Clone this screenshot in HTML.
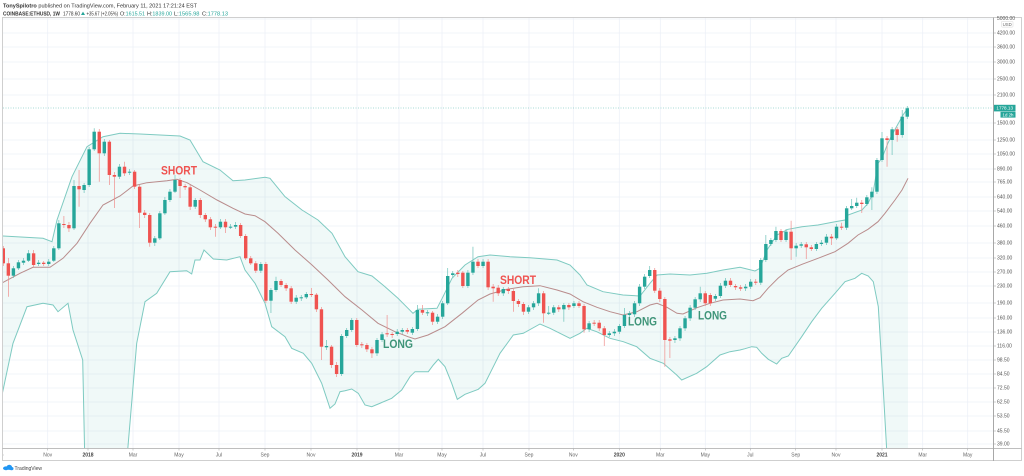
<!DOCTYPE html>
<html><head><meta charset="utf-8"><style>
html,body{margin:0;padding:0;background:#fff;width:1024px;height:476px;overflow:hidden}
svg{display:block;font-family:"Liberation Sans",Arial,sans-serif}
</style></head><body>
<svg width="1024" height="476" viewBox="0 0 1024 476" xmlns="http://www.w3.org/2000/svg">
<defs>
<clipPath id="plot"><rect x="3" y="17.5" width="990" height="430.5"/></clipPath>
<clipPath id="taxis"><rect x="3" y="448" width="990" height="13"/></clipPath>
</defs>
<rect width="1024" height="476" fill="#fff"/>

<!-- header -->
<text x="3" y="7.5" font-size="5.3" fill="#333" textLength="194" lengthAdjust="spacingAndGlyphs"><tspan font-weight="bold">TonySpilotro</tspan> published on TradingView.com, February 11, 2021 17:21:24 EST</text>
<g font-size="5.3" fill="#333">
<text x="3" y="15.3" font-weight="bold" textLength="57" lengthAdjust="spacingAndGlyphs">COINBASE:ETHUSD, 1W</text>
<text x="63" y="15.3" textLength="17" lengthAdjust="spacingAndGlyphs">1778.60</text>
<polygon points="81,15 85,15 83,11.6" fill="#26a69a"/>
<text x="86.5" y="15.3" textLength="31.5" lengthAdjust="spacingAndGlyphs">+35.67 (+2.05%)</text>
<text x="120" y="15.3" textLength="25" lengthAdjust="spacingAndGlyphs">O:<tspan fill="#26a69a">1615.51</tspan></text>
<text x="147" y="15.3" textLength="25" lengthAdjust="spacingAndGlyphs">H:<tspan fill="#26a69a">1839.00</tspan></text>
<text x="174" y="15.3" textLength="25.5" lengthAdjust="spacingAndGlyphs">L:<tspan fill="#26a69a">1565.98</tspan></text>
<text x="202" y="15.3" textLength="26" lengthAdjust="spacingAndGlyphs">C:<tspan fill="#26a69a">1778.13</tspan></text>
</g>

<!-- grid -->
<g stroke="#edf1f7" stroke-width="0.8">
<path d="M3 19H993M3 33H993M3 47H993M3 62H993M3 79H993M3 95H993M3 123H993M3 140H993M3 154H993M3 169H993M3 182H993M3 197H993M3 211H993M3 226H993M3 243H993M3 258H993M3 272H993M3 286H993M3 303H993M3 318H993M3 332H993M3 346H993M3 360H993M3 374H993M3 388H993M3 402H993M3 416H993M3 431H993M3 444H993"/>
<path d="M47.7 17.5V448M88 17.5V448M133 17.5V448M179 17.5V448M219 17.5V448M265 17.5V448M311 17.5V448M357 17.5V448M399 17.5V448M442 17.5V448M483 17.5V448M529 17.5V448M573.3 17.5V448M619.3 17.5V448M660.3 17.5V448M705.3 17.5V448M750.3 17.5V448M795.7 17.5V448M836 17.5V448M882 17.5V448M922.7 17.5V448M967.7 17.5V448"/>
</g>

<g clip-path="url(#plot)">
<!-- band fill -->
<polygon fill="#26a69a" fill-opacity="0.07" points="2,236 43,238.3 52,241.7 57,220 72,176.7 87,146.7 103,136.7 120,133.3 140,134 180,136 190,140 203,161.7 220,170 233,180.7 245,180 265,177.3 270,178.3 285,196.7 302,210 318,220 332,233.3 345,256.7 358,271.7 372,276 385,286.7 398,298.3 408,308.3 413,313.3 418,309.3 437,308.3 443,296.7 452,278.3 465,265 478,256.7 490,255 510,256.7 530,257.7 557,260 570,265 580,275 587,285 603,291.7 623,295 640,296 650,283.3 657,275 670,274 690,275 707,273.3 723,270 740,267.3 755,271 760,268.3 767,250 777,235 788,229.3 802,226.7 818,225 835,221.7 845,220 848,215 862,210 868,203.3 873,193.3 878,163.3 882,158 888,143 893,133 898,124 903,115 908,108 908,470 887.5,470 886.7,450 883.3,390 878.3,306.7 873.3,281.7 868.3,276 861.7,273.3 855,278.3 845,281.7 835,293.3 821.7,308.3 811.7,321.7 801.7,336.7 788.3,356 781.7,358.3 776.7,364 768.3,359.3 761.7,353.3 756.7,347.3 751.7,346.7 745,348.7 740,350 730,351.7 720,355 706.7,366.7 696.7,373.3 681.7,380 676.7,375 663.3,363.3 650,358.3 636.7,346.7 623.3,341.7 610,338.3 596.7,331.7 586.7,328.3 580,333.3 570,338.3 550,328.3 540,324 523.3,333.3 513.3,335 500,353.3 495,363.3 485,383.3 478.3,389.3 465,394.3 457.3,399.3 451.7,383.3 445,366.7 438.3,359.3 433.3,365 428.3,371.7 415,371.7 410,376.7 401.7,390 391.7,398.3 378.3,404 371.7,406.7 365,405 358.3,393.3 351.7,389 345,390.7 340,391.7 335,404 330,408.3 321.7,383.3 311.7,363.3 303.3,353.3 291.7,348.3 285,336.7 271.7,326.7 265,303.3 255,283.3 245,270 240,256.7 226.7,260 213.3,259 204,250 200,260 195,260 191.7,274 186.7,270.7 170,271.7 156.7,293.3 145,301.7 136.7,343.3 126,470 85,470 82.7,360 73,330 68,303.3 58,311.7 53,305 43,303.3 27,306.7 13,343.3 2,395"/>
<!-- upper band -->
<polyline fill="none" stroke="#7ecac1" stroke-width="1" points="2,236 43,238.3 52,241.7 57,220 72,176.7 87,146.7 103,136.7 120,133.3 140,134 180,136 190,140 203,161.7 220,170 233,180.7 245,180 265,177.3 270,178.3 285,196.7 302,210 318,220 332,233.3 345,256.7 358,271.7 372,276 385,286.7 398,298.3 408,308.3 413,313.3 418,309.3 437,308.3 443,296.7 452,278.3 465,265 478,256.7 490,255 510,256.7 530,257.7 557,260 570,265 580,275 587,285 603,291.7 623,295 640,296 650,283.3 657,275 670,274 690,275 707,273.3 723,270 740,267.3 755,271 760,268.3 767,250 777,235 788,229.3 802,226.7 818,225 835,221.7 845,220 848,215 862,210 868,203.3 873,193.3 878,163.3 882,158 888,143 893,133 898,124 903,115 908,108"/>
<!-- lower band -->
<polyline fill="none" stroke="#7ecac1" stroke-width="1" points="2,395 13,343.3 27,306.7 43,303.3 53,305 58,311.7 68,303.3 73,330 82.7,360 85,470 126,470 136.7,343.3 145,301.7 156.7,293.3 170,271.7 186.7,270.7 191.7,274 195,260 200,260 204,250 213.3,259 226.7,260 240,256.7 245,270 255,283.3 265,303.3 271.7,326.7 285,336.7 291.7,348.3 303.3,353.3 311.7,363.3 321.7,383.3 330,408.3 335,404 340,391.7 345,390.7 351.7,389 358.3,393.3 365,405 371.7,406.7 378.3,404 391.7,398.3 401.7,390 410,376.7 415,371.7 428.3,371.7 433.3,365 438.3,359.3 445,366.7 451.7,383.3 457.3,399.3 465,394.3 478.3,389.3 485,383.3 495,363.3 500,353.3 513.3,335 523.3,333.3 540,324 550,328.3 570,338.3 580,333.3 586.7,328.3 596.7,331.7 610,338.3 623.3,341.7 636.7,346.7 650,358.3 663.3,363.3 676.7,375 681.7,380 696.7,373.3 706.7,366.7 720,355 730,351.7 740,350 745,348.7 751.7,346.7 756.7,347.3 761.7,353.3 768.3,359.3 776.7,364 781.7,358.3 788.3,356 801.7,336.7 811.7,321.7 821.7,308.3 835,293.3 845,281.7 855,278.3 861.7,273.3 868.3,276 873.3,281.7 878.3,306.7 883.3,390 886.7,450 887.5,470"/>
<!-- middle SMA -->
<polyline fill="none" stroke="#b98c8c" stroke-width="1" points="2,283 20,273.3 33,267.3 50,267.3 63,258.3 77,243.3 90,223.3 103,205 120,196 133,186 147,182.7 167,180.7 177,179.3 187,182.7 200,190 217,200 233,208.3 245,214 255,215.7 265,221.7 278,233.3 295,250 312,265 328,280 345,296.7 362,310 378,323.3 395,331.7 408,336.7 415,339 428,335 445,326.7 462,313.3 478,300 490,294 507,289.3 523,286.7 540,285.7 557,290 570,294 583,301.7 597,307.3 610,311.7 623,315 637,311.7 650,305 657,303.3 667,307.3 677,313.3 683,314 697,307.7 710,303.3 723,300 740,299 753,300.7 760,297.7 768,288.3 778,278.3 788,270 802,264.3 818,258.3 835,251.7 848,243.3 858,235 868,229.3 878,221.7 885,213.3 895,200 902,190 908,178.3"/>

<!-- price line -->
<line x1="3" y1="108" x2="993" y2="108" stroke="#26a69a" stroke-width="0.6" stroke-dasharray="1,1.5" opacity="0.8"/>

<!-- wicks -->
<path fill="none" stroke="#f08e8c" stroke-width="0.7" d="M3.3 246V266M8.35 258V296.7M33.6 250V267M43.7 261V266M63.9 216V228M68.95 222V232M79.05 170V206.7M99.25 129V181.7M109.35 140V185M114.4 172V208M124.5 161.7V176M134.6 170V189M139.65 185V228M144.7 210V218M149.75 213V246.7M180.05 178V198M185.1 184V190M190.15 185V210M200.25 198V218M205.3 213V222M210.35 217V230M215.4 224V236.7M225.5 219V233M240.65 223V238M245.7 234V260M250.75 256V265M255.8 261V273M265.9 262V303M281.05 279V287M286.1 283V291M291.15 286V304M311.35 288V297M316.4 293V312M321.45 307V360M331.55 345V368M336.6 362V377M356.8 318V347M361.85 342V348M366.9 343V352M371.95 347V358M387.1 315V337M392.15 332V338M407.3 328V334M422.45 305V315M432.55 311V325M457.8 270V277M462.85 271V288M478 259V268M488.1 259V290M493.15 284V301.7M498.2 285V296M508.3 287V294M513.35 289V311.7M518.4 299V307M523.45 302V315M543.65 291V322.7M558.8 305V312M568.9 303V310M579 301V308M584.05 304V332.7M594.15 320V326M599.2 320V331M604.25 326V346M654.75 268V293M659.8 288V302M664.85 297V366.7M669.9 337V358M705.25 291V306M710.3 293V306M730.5 278V287M735.55 284V290M740.6 285V291M755.75 279V285M781 229V242M791.1 220.7V260M806.25 242V259M811.3 245V251M831.5 234V245M841.6 222.7V230M861.8 200V213M887.05 136V166.7M897.15 127V141.7"/>
<path fill="none" stroke="#6cc2b9" stroke-width="0.7" d="M13.4 266V278M18.45 260V270M23.5 258V265M28.55 250V262M38.65 260V266M48.75 259V266M53.8 246V262M58.85 220V250M74 180V230M84.1 183V193M89.15 147V187M94.2 128.3V151M104.3 139V156M119.45 164V179M129.55 169V175M154.8 236V246M159.85 211V240M164.9 197V215M169.95 189V202M175 175V193M195.2 198V209M220.45 219V229M230.55 224V229M235.6 222V229M260.85 262V273M270.95 288V313M276 276.7V292M296.2 295V304M301.25 295V301M306.3 292V299M326.5 340V350M341.65 334V376M346.7 328V338M351.75 318V332M377 338V356M382.05 332V342M397.2 329V336M402.25 328V334M412.35 327V335M417.4 305V331M427.5 310V316M437.6 314V324M442.65 301V319M447.7 268V305M452.75 271V278M467.9 270V288M472.95 246.7V275M483.05 259V268M503.25 287V296M528.5 305V314M533.55 301V310M538.6 288.3V306M548.7 306V315M553.75 305V315M563.85 303V321.7M573.95 301V308M589.1 321V332M609.3 331V337M614.35 329V336M619.4 324V334M624.45 308V328M629.5 311V318M634.55 301V317M639.6 284V306M644.65 274V289M649.7 266V278M674.95 336V343M680 326V341M685.05 316V331M690.1 305V321M695.15 297V310M700.2 286.7V302M715.35 294V301M720.4 283V298M725.45 278V288M745.65 284V291M750.7 279V289M760.8 258V285M765.85 235V262M770.9 238V246M775.95 226.7V242M786.05 229V242M796.15 243V256.7M801.2 242V248M816.35 242V251M821.4 240V246M826.45 234V245M836.55 224V240M846.65 206V230M851.7 199V210M856.75 197.7V208M866.85 195V206M871.9 187.3V210M876.95 158V194M882 132V162M892.1 127V155M902.2 110V137.7M907.25 106V119"/>

<!-- red bodies -->
<g fill="#ef5350">
<rect x="1.6" y="248.3" width="3.4" height="15"/><rect x="6.65" y="263.3" width="3.4" height="12.4"/><rect x="31.9" y="253.3" width="3.4" height="11.7"/><rect x="42" y="262.7" width="3.4" height="1.3"/><rect x="62.2" y="224" width="3.4" height="1"/><rect x="67.25" y="225" width="3.4" height="3.3"/><rect x="77.35" y="186" width="3.4" height="3.3"/><rect x="97.55" y="131.7" width="3.4" height="21.6"/><rect x="107.65" y="141.7" width="3.4" height="33.3"/><rect x="112.7" y="175" width="3.4" height="1.7"/><rect x="122.8" y="166.7" width="3.4" height="6.6"/><rect x="132.9" y="171.7" width="3.4" height="15"/><rect x="137.95" y="186.7" width="3.4" height="26"/><rect x="143" y="212.7" width="3.4" height="2.3"/><rect x="148.05" y="215" width="3.4" height="27.7"/><rect x="178.35" y="180" width="3.4" height="6"/><rect x="183.4" y="186" width="3.4" height="1.3"/><rect x="188.45" y="187.3" width="3.4" height="19.4"/><rect x="198.55" y="200" width="3.4" height="15"/><rect x="203.6" y="215" width="3.4" height="4.3"/><rect x="208.65" y="219.3" width="3.4" height="8"/><rect x="213.7" y="226.7" width="3.4" height="1"/><rect x="223.8" y="221.7" width="3.4" height="5.6"/><rect x="238.95" y="225" width="3.4" height="11"/><rect x="244" y="236" width="3.4" height="22.3"/><rect x="249.05" y="258.3" width="3.4" height="5"/><rect x="254.1" y="263.3" width="3.4" height="7.4"/><rect x="264.2" y="264" width="3.4" height="36.7"/><rect x="279.35" y="281" width="3.4" height="4"/><rect x="284.4" y="285" width="3.4" height="3.3"/><rect x="289.45" y="288.3" width="3.4" height="13.4"/><rect x="309.65" y="294" width="3.4" height="1"/><rect x="314.7" y="294.7" width="3.4" height="14.6"/><rect x="319.75" y="309.3" width="3.4" height="37.4"/><rect x="329.85" y="346.7" width="3.4" height="18.3"/><rect x="334.9" y="365" width="3.4" height="9"/><rect x="355.1" y="320" width="3.4" height="25"/><rect x="360.15" y="344.3" width="3.4" height="1"/><rect x="365.2" y="345" width="3.4" height="4.3"/><rect x="370.25" y="349.3" width="3.4" height="4"/><rect x="385.4" y="333.3" width="3.4" height="1"/><rect x="390.45" y="334" width="3.4" height="1"/><rect x="405.6" y="330" width="3.4" height="1.7"/><rect x="420.75" y="310" width="3.4" height="2.7"/><rect x="430.85" y="312.7" width="3.4" height="9"/><rect x="456.1" y="272.7" width="3.4" height="1.3"/><rect x="461.15" y="272.7" width="3.4" height="13.3"/><rect x="476.3" y="261.7" width="3.4" height="4.3"/><rect x="486.4" y="261.7" width="3.4" height="25.6"/><rect x="491.45" y="286.7" width="3.4" height="1.6"/><rect x="496.5" y="287.7" width="3.4" height="5.6"/><rect x="506.6" y="289" width="3.4" height="2"/><rect x="511.65" y="291" width="3.4" height="10"/><rect x="516.7" y="301" width="3.4" height="3"/><rect x="521.75" y="304" width="3.4" height="7.7"/><rect x="541.95" y="293.3" width="3.4" height="20"/><rect x="557.1" y="307.3" width="3.4" height="2"/><rect x="567.2" y="305" width="3.4" height="2.3"/><rect x="577.3" y="303.3" width="3.4" height="2.7"/><rect x="582.35" y="306" width="3.4" height="23.3"/><rect x="592.45" y="322.7" width="3.4" height="1"/><rect x="597.5" y="322.7" width="3.4" height="5.6"/><rect x="602.55" y="328.3" width="3.4" height="6.7"/><rect x="653.05" y="270" width="3.4" height="20.7"/><rect x="658.1" y="290.7" width="3.4" height="8.3"/><rect x="663.15" y="299" width="3.4" height="41"/><rect x="668.2" y="339.3" width="3.4" height="1.4"/><rect x="703.55" y="293.3" width="3.4" height="10"/><rect x="708.6" y="295" width="3.4" height="8.3"/><rect x="728.8" y="280.7" width="3.4" height="4.3"/><rect x="733.85" y="286" width="3.4" height="1.3"/><rect x="738.9" y="287.3" width="3.4" height="1.4"/><rect x="754.05" y="281.7" width="3.4" height="1"/><rect x="779.3" y="231" width="3.4" height="9"/><rect x="789.4" y="231.7" width="3.4" height="16.6"/><rect x="804.55" y="244.3" width="3.4" height="3"/><rect x="809.6" y="247.3" width="3.4" height="1.7"/><rect x="829.8" y="236.7" width="3.4" height="1.6"/><rect x="839.9" y="226.7" width="3.4" height="1"/><rect x="860.1" y="202.7" width="3.4" height="1.3"/><rect x="885.35" y="138.3" width="3.4" height="1.7"/><rect x="895.45" y="129.3" width="3.4" height="5.7"/>
</g>
<!-- green bodies -->
<g fill="#26a69a">
<rect x="11.7" y="268.3" width="3.4" height="7.4"/><rect x="16.75" y="262.3" width="3.4" height="6"/><rect x="21.8" y="260.7" width="3.4" height="2"/><rect x="26.85" y="253.3" width="3.4" height="7.4"/><rect x="36.95" y="262.7" width="3.4" height="1.3"/><rect x="47.05" y="261.7" width="3.4" height="2.3"/><rect x="52.1" y="248.3" width="3.4" height="12.4"/><rect x="57.15" y="223.3" width="3.4" height="25"/><rect x="72.3" y="186" width="3.4" height="42.3"/><rect x="82.4" y="185" width="3.4" height="5"/><rect x="87.45" y="149.3" width="3.4" height="35.7"/><rect x="92.5" y="131.7" width="3.4" height="17.6"/><rect x="102.6" y="141.7" width="3.4" height="11.6"/><rect x="117.75" y="166.7" width="3.4" height="10"/><rect x="127.85" y="171.7" width="3.4" height="1"/><rect x="153.1" y="238.3" width="3.4" height="4.4"/><rect x="158.15" y="213.3" width="3.4" height="25"/><rect x="163.2" y="200" width="3.4" height="13.3"/><rect x="168.25" y="191.7" width="3.4" height="8.3"/><rect x="173.3" y="180" width="3.4" height="11.7"/><rect x="193.5" y="200" width="3.4" height="6.7"/><rect x="218.75" y="221.7" width="3.4" height="5.6"/><rect x="228.85" y="226.7" width="3.4" height="1"/><rect x="233.9" y="225" width="3.4" height="1.7"/><rect x="259.15" y="264" width="3.4" height="6.7"/><rect x="269.25" y="290" width="3.4" height="10.7"/><rect x="274.3" y="281" width="3.4" height="9"/><rect x="294.5" y="297.7" width="3.4" height="4"/><rect x="299.55" y="297.3" width="3.4" height="1"/><rect x="304.6" y="294" width="3.4" height="3.3"/><rect x="324.8" y="346" width="3.4" height="1.3"/><rect x="339.95" y="336" width="3.4" height="38"/><rect x="345" y="330" width="3.4" height="6"/><rect x="350.05" y="320" width="3.4" height="10"/><rect x="375.3" y="340" width="3.4" height="13.3"/><rect x="380.35" y="334.3" width="3.4" height="5.7"/><rect x="395.5" y="331.7" width="3.4" height="2.3"/><rect x="400.55" y="330" width="3.4" height="1.7"/><rect x="410.65" y="329" width="3.4" height="3.7"/><rect x="415.7" y="310" width="3.4" height="19"/><rect x="425.8" y="312.3" width="3.4" height="1"/><rect x="435.9" y="316.7" width="3.4" height="5"/><rect x="440.95" y="303.3" width="3.4" height="13.4"/><rect x="446" y="276" width="3.4" height="27.3"/><rect x="451.05" y="273.3" width="3.4" height="1.7"/><rect x="466.2" y="272.7" width="3.4" height="13.3"/><rect x="471.25" y="261.7" width="3.4" height="11"/><rect x="481.35" y="261.7" width="3.4" height="4.3"/><rect x="501.55" y="289" width="3.4" height="4.3"/><rect x="526.8" y="307.3" width="3.4" height="4.4"/><rect x="531.85" y="303.3" width="3.4" height="4"/><rect x="536.9" y="293.3" width="3.4" height="10"/><rect x="547" y="312.7" width="3.4" height="1"/><rect x="552.05" y="307.3" width="3.4" height="5.4"/><rect x="562.15" y="305" width="3.4" height="4.3"/><rect x="572.25" y="303.3" width="3.4" height="2.7"/><rect x="587.4" y="323.3" width="3.4" height="6"/><rect x="607.6" y="333.3" width="3.4" height="1.7"/><rect x="612.65" y="331.7" width="3.4" height="1.6"/><rect x="617.7" y="326" width="3.4" height="5.7"/><rect x="622.75" y="315" width="3.4" height="11"/><rect x="627.8" y="313.3" width="3.4" height="1.7"/><rect x="632.85" y="303.3" width="3.4" height="11"/><rect x="637.9" y="286.7" width="3.4" height="16.6"/><rect x="642.95" y="276.7" width="3.4" height="10"/><rect x="648" y="270" width="3.4" height="6"/><rect x="673.25" y="338.3" width="3.4" height="1.7"/><rect x="678.3" y="328.3" width="3.4" height="10"/><rect x="683.35" y="318.3" width="3.4" height="10"/><rect x="688.4" y="307.7" width="3.4" height="10.6"/><rect x="693.45" y="299.3" width="3.4" height="8.4"/><rect x="698.5" y="293.3" width="3.4" height="6"/><rect x="713.65" y="296" width="3.4" height="2.7"/><rect x="718.7" y="285.7" width="3.4" height="10.3"/><rect x="723.75" y="280.7" width="3.4" height="5"/><rect x="743.95" y="286.7" width="3.4" height="1.6"/><rect x="749" y="281.7" width="3.4" height="5"/><rect x="759.1" y="260" width="3.4" height="22.7"/><rect x="764.15" y="244" width="3.4" height="16"/><rect x="769.2" y="240" width="3.4" height="4"/><rect x="774.25" y="231" width="3.4" height="9"/><rect x="784.35" y="231.7" width="3.4" height="8.3"/><rect x="794.45" y="245.7" width="3.4" height="2.6"/><rect x="799.5" y="244.3" width="3.4" height="1.4"/><rect x="814.65" y="244" width="3.4" height="5"/><rect x="819.7" y="242.7" width="3.4" height="1.3"/><rect x="824.75" y="236.7" width="3.4" height="6"/><rect x="834.85" y="226.7" width="3.4" height="11.6"/><rect x="844.95" y="208.3" width="3.4" height="19.4"/><rect x="850" y="206" width="3.4" height="2.3"/><rect x="855.05" y="202.7" width="3.4" height="3.3"/><rect x="865.15" y="197.3" width="3.4" height="6.7"/><rect x="870.2" y="191.7" width="3.4" height="5.6"/><rect x="875.25" y="160" width="3.4" height="31.7"/><rect x="880.3" y="138.3" width="3.4" height="21.7"/><rect x="890.4" y="129.3" width="3.4" height="10.7"/><rect x="900.5" y="116.7" width="3.4" height="18.3"/><rect x="905.55" y="108.3" width="3.4" height="8.4"/>
</g>

<!-- annotations -->
<g font-weight="bold" font-size="12">
<text x="161" y="174.5" fill="#ef5350" textLength="36" lengthAdjust="spacingAndGlyphs">SHORT</text>
<text x="500" y="284" fill="#ef5350" textLength="36" lengthAdjust="spacingAndGlyphs">SHORT</text>
<text x="383" y="348" fill="#3f9579" textLength="30" lengthAdjust="spacingAndGlyphs">LONG</text>
<text x="628" y="325.3" fill="#3f9579" textLength="29" lengthAdjust="spacingAndGlyphs">LONG</text>
<text x="698" y="319.5" fill="#3f9579" textLength="29" lengthAdjust="spacingAndGlyphs">LONG</text>
</g>
</g>

<!-- frame -->
<rect x="2.5" y="17.5" width="1019" height="443" fill="none" stroke="#c4c4c4" stroke-width="0.8"/>
<line x1="993.5" y1="17.5" x2="993.5" y2="461" stroke="#a8a8a8" stroke-width="1"/>
<line x1="2.5" y1="448.5" x2="1021.5" y2="448.5" stroke="#a8a8a8" stroke-width="0.8"/>

<!-- time axis ticks & labels -->
<path stroke="#aaa" stroke-width="0.6" d="M47.7 448.5V450.5M88 448.5V450.5M133 448.5V450.5M179 448.5V450.5M219 448.5V450.5M265 448.5V450.5M311 448.5V450.5M357 448.5V450.5M399 448.5V450.5M442 448.5V450.5M483 448.5V450.5M529 448.5V450.5M573.3 448.5V450.5M619.3 448.5V450.5M660.3 448.5V450.5M705.3 448.5V450.5M750.3 448.5V450.5M795.7 448.5V450.5M836 448.5V450.5M882 448.5V450.5M922.7 448.5V450.5M967.7 448.5V450.5"/>
<g font-size="5" fill="#666" text-anchor="middle">
<text x="-1" y="456.6" clip-path="url(#taxis)">Sep</text>
<text x="47.7" y="456.6">Nov</text>
<text x="88" y="456.6" font-weight="bold" fill="#444">2018</text>
<text x="133" y="456.6">Mar</text>
<text x="179" y="456.6">May</text>
<text x="219" y="456.6">Jul</text>
<text x="265" y="456.6">Sep</text>
<text x="311" y="456.6">Nov</text>
<text x="357" y="456.6" font-weight="bold" fill="#444">2019</text>
<text x="399" y="456.6">Mar</text>
<text x="442" y="456.6">May</text>
<text x="483" y="456.6">Jul</text>
<text x="529" y="456.6">Sep</text>
<text x="573.3" y="456.6">Nov</text>
<text x="619.3" y="456.6" font-weight="bold" fill="#444">2020</text>
<text x="660.3" y="456.6">Mar</text>
<text x="705.3" y="456.6">May</text>
<text x="750.3" y="456.6">Jul</text>
<text x="795.7" y="456.6">Sep</text>
<text x="836" y="456.6">Nov</text>
<text x="882" y="456.6" font-weight="bold" fill="#444">2021</text>
<text x="922.7" y="456.6">Mar</text>
<text x="967.7" y="456.6">May</text>
</g>

<!-- price axis -->
<path stroke="#999" stroke-width="0.6" d="M993.5 33H996M993.5 47H996M993.5 62H996M993.5 79H996M993.5 95H996M993.5 123H996M993.5 140H996M993.5 154H996M993.5 169H996M993.5 182H996M993.5 197H996M993.5 211H996M993.5 226H996M993.5 243H996M993.5 258H996M993.5 272H996M993.5 286H996M993.5 303H996M993.5 318H996M993.5 332H996M993.5 346H996M993.5 360H996M993.5 374H996M993.5 388H996M993.5 402H996M993.5 416H996M993.5 431H996M993.5 444H996"/>
<g font-size="5" fill="#555">
<text x="997" y="19.8">5000.00</text>
<text x="997" y="34.7">4200.00</text>
<text x="997" y="48.7">3600.00</text>
<text x="997" y="63.7">3000.00</text>
<text x="997" y="80.7">2500.00</text>
<text x="997" y="96.7">2100.00</text>
<text x="997" y="124.7">1500.00</text>
<text x="997" y="141.7">1250.00</text>
<text x="997" y="155.7">1050.00</text>
<text x="997" y="170.7">890.00</text>
<text x="997" y="183.7">765.00</text>
<text x="997" y="198.7">640.00</text>
<text x="997" y="212.7">540.00</text>
<text x="997" y="227.7">460.00</text>
<text x="997" y="244.7">380.00</text>
<text x="997" y="259.7">320.00</text>
<text x="997" y="273.7">270.00</text>
<text x="997" y="287.7">230.00</text>
<text x="997" y="304.7">190.00</text>
<text x="997" y="319.7">160.00</text>
<text x="997" y="333.7">136.00</text>
<text x="997" y="347.7">116.00</text>
<text x="997" y="361.7">98.50</text>
<text x="997" y="375.7">84.50</text>
<text x="997" y="389.7">72.50</text>
<text x="997" y="403.7">62.50</text>
<text x="997" y="417.7">53.50</text>
<text x="997" y="432.7">45.50</text>
<text x="997" y="445.7">39.00</text>
</g>
<rect x="1001.5" y="21.3" width="11.5" height="5.8" fill="#fff" stroke="#d6d6d6" stroke-width="0.5" rx="0.8"/>
<text x="1007.2" y="25.8" font-size="4.3" fill="#666" text-anchor="middle">USD</text>

<!-- price tags -->
<rect x="994" y="104.8" width="21.5" height="6.6" fill="#26a69a"/>
<text x="1004.7" y="109.7" font-size="4.6" fill="#fff" text-anchor="middle">1778.13</text>
<rect x="1000.5" y="111.8" width="15" height="5.8" fill="#26a69a"/>
<text x="1008" y="116.3" font-size="4.4" fill="#fff" text-anchor="middle">1d 2h</text>

<!-- footer logo -->
<g fill="#2196f3">
<ellipse cx="6" cy="468.3" rx="3" ry="1.9"/>
<ellipse cx="9.3" cy="467.3" rx="2.8" ry="2.6"/>
<ellipse cx="11.5" cy="468.6" rx="2" ry="1.6"/>
</g>
<text x="14.5" y="469.8" font-size="5" fill="#444">TradingView</text>
</svg>
</body></html>
